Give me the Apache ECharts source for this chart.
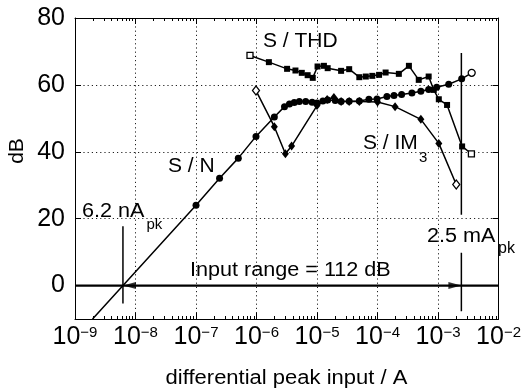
<!DOCTYPE html>
<html><head><meta charset="utf-8">
<script src="https://cdn.jsdelivr.net/npm/echarts@6/dist/echarts.min.js"></script>
<style>html,body{margin:0;padding:0;background:#fff}#c{width:524px;height:391px}</style>
</head><body><div id="c"></div>
<script>
// ---- data ----
const xTickValues = [1e-9, 1e-8, 1e-7, 1e-6, 1e-5, 1e-4, 1e-3, 1e-2];
const yTickValues = [0, 20, 40, 60, 80];

const snX = [1.95e-9, 1.0e-7, 2.45e-7, 5.0e-7, 9.8e-7, 1.97e-6, 2.9e-6, 3.5e-6, 4.2e-6, 5.1e-6, 6.5e-6, 8.3e-6, 1.0e-5, 1.25e-5, 1.5e-5, 2.0e-5, 2.5e-5, 3.4e-5, 5.0e-5, 7.2e-5, 9.8e-5, 1.43e-4, 1.87e-4, 2.5e-4, 3.7e-4, 5.2e-4, 7.0e-4, 9.5e-4, 1.5e-3, 2.46e-3, 3.6e-3];
const snY = [-10, 24.0, 32.1, 38.1, 44.6, 50.4, 53.5, 54.3, 54.7, 55.0, 55.0, 54.8, 54.6, 55.2, 55.5, 55.3, 55.0, 55.1, 55.2, 55.7, 55.8, 56.5, 56.8, 57.1, 57.6, 58.1, 58.6, 59.3, 60.2, 61.8, 63.6];

const thdX = [7.8e-7, 1.6e-6, 3.2e-6, 4.4e-6, 5.6e-6, 7.0e-6, 8.5e-6, 1.02e-5, 1.3e-5, 1.5e-5, 2.5e-5, 3.4e-5, 5.0e-5, 6.4e-5, 8.2e-5, 1.06e-4, 1.36e-4, 2.25e-4, 3.3e-4, 4.8e-4, 7.0e-4, 8.5e-4, 1.03e-3, 1.41e-3, 2.5e-3, 3.56e-3];
const thdY = [68.8, 66.8, 64.8, 64.3, 63.6, 62.9, 62.1, 65.5, 65.7, 65.0, 64.2, 64.7, 62.3, 62.5, 62.7, 63.0, 63.7, 63.3, 65.7, 61.5, 62.5, 58.5, 55.7, 54.0, 41.6, 39.4];

const im3X = [9.8e-7, 1.97e-6, 3.0e-6, 3.8e-6, 1.0e-5, 1.47e-5, 1.9e-5, 2.5e-5, 3.4e-5, 5.0e-5, 1.0e-4, 1.95e-4, 5.2e-4, 1.03e-3, 2.0e-3];
const im3Y = [58.3, 47.5, 39.4, 41.7, 53.8, 55.6, 56.2, 55.0, 55.0, 55.0, 54.9, 53.5, 49.7, 42.5, 30.2];

const lowLimitX = [6.2e-9, 6.2e-9];
const lowLimitY = [-5.4, 17.7];
const highLimitLowX = [2.43e-3, 2.43e-3];
const highLimitLowY = [-7.7, 9.8];
const highLimitHighX = [2.43e-3, 2.43e-3];
const highLimitHighY = [21.2, 69.5];
const rangeLineX = [1e-9, 1e-2];
const rangeLineY = [0, 0];
const arrowX = [6.2e-9, 2.43e-3];
const arrowY = [0, 0];

// ---- chart ----
const FONT = "'Liberation Sans', Arial, Helvetica, sans-serif";
const minorTicks = [];
for (let e = -9; e < -2; e++) for (let m = 2; m <= 9; m++) minorTicks.push(m * Math.pow(10, e));

function pairs(xs, ys) { return xs.map((x, i) => [x, ys[i]]); }
const hollow = { color: '#fff', borderColor: '#000', borderWidth: 1.3 };
function marked(xs, ys, firstHollow, lastHollow, firstNone) {
  return xs.map((x, i) => {
    const it = { value: [x, ys[i]] };
    if (i === 0 && firstNone) it.symbol = 'none';
    else if ((i === 0 && firstHollow) || (i === xs.length - 1 && lastHollow)) it.itemStyle = hollow;
    return it;
  });
}

const logAxisBase = { type: 'log', min: 1e-9, max: 1e-2, logBase: 10, gridIndex: 0 };
const tickVals = xTickValues;

const chart = echarts.init(document.getElementById('c'), null, { renderer: 'canvas' });
const lineBlack = { color: '#000', width: 1.5 };
const gridDots = { color: '#222', type: [1.2, 3], width: 1 };

chart.setOption({
  animation: false,
  backgroundColor: '#fff',
  grid: { left: 75, right: 24, top: 18, bottom: 72, containLabel: false },
  xAxis: [
    Object.assign({}, logAxisBase, {
      position: 'bottom',
      axisLine: { show: true, onZero: false, lineStyle: { color: '#000', width: 1 } },
      axisTick: { show: true, inside: true, length: 6, lineStyle: { color: '#000' }, customValues: tickVals },
      axisLabel: {
        show: true, margin: 6, customValues: tickVals,
        formatter: v => '{b|10}{s|' + String(Math.round(Math.log10(v))).replace('-', '\u2212') + '}',
        rich: {
          b: { fontSize: 25, fontFamily: FONT, color: '#000' },
          s: { fontSize: 15, fontFamily: FONT, color: '#000', verticalAlign: 'top' }
        }
      },
      splitLine: { show: true, lineStyle: gridDots },
      minorTick: { show: false }
    }),
    Object.assign({}, logAxisBase, {
      position: 'top',
      axisLine: { show: true, onZero: false, lineStyle: { color: '#000', width: 1 } },
      axisTick: { show: true, inside: true, length: 6, lineStyle: { color: '#000' }, customValues: tickVals },
      axisLabel: { show: false },
      splitLine: { show: false }
    }),
    Object.assign({}, logAxisBase, {
      position: 'bottom',
      axisLine: { show: false, onZero: false },
      axisTick: { show: true, inside: true, length: 3, lineStyle: { color: '#000' }, customValues: minorTicks },
      axisLabel: { show: false },
      splitLine: { show: false }
    }),
    Object.assign({}, logAxisBase, {
      position: 'top',
      axisLine: { show: false, onZero: false },
      axisTick: { show: true, inside: true, length: 3, lineStyle: { color: '#000' }, customValues: minorTicks },
      axisLabel: { show: false },
      splitLine: { show: false }
    })
  ],
  yAxis: [
    {
      type: 'value', min: -10, max: 80, splitNumber: 5, position: 'left',
      axisLine: { show: true, onZero: false, lineStyle: { color: '#000', width: 1 } },
      axisTick: { show: true, inside: true, length: 6, lineStyle: { color: '#000' }, customValues: yTickValues },
      axisLabel: { show: true, margin: 10, customValues: yTickValues, fontSize: 25, fontFamily: FONT, color: '#000' },
      splitLine: { show: true, lineStyle: gridDots }
    },
    {
      type: 'value', min: -10, max: 80, splitNumber: 5, position: 'right',
      axisLine: { show: true, onZero: false, lineStyle: { color: '#000', width: 1 } },
      axisTick: { show: true, inside: true, length: 6, lineStyle: { color: '#000' }, customValues: yTickValues },
      axisLabel: { show: false },
      splitLine: { show: false }
    }
  ],
  series: [
    { type: 'line', name: 'range', data: pairs(rangeLineX, rangeLineY), symbol: 'none', lineStyle: { color: '#000', width: 2.2 }, z: 3 },
    { type: 'scatter', name: 'arrows', data: [
        { value: [arrowX[0], arrowY[0]], symbolRotate: 90, symbolOffset: [6.5, 0] },
        { value: [arrowX[1], arrowY[1]], symbolRotate: -90, symbolOffset: [-6.5, 0] }
      ], symbol: 'triangle', symbolSize: [7, 13], itemStyle: { color: '#000' }, z: 6 },
    { type: 'line', name: 'low', data: pairs(lowLimitX, lowLimitY), symbol: 'none', lineStyle: lineBlack, z: 3 },
    { type: 'line', name: 'highA', data: pairs(highLimitLowX, highLimitLowY), symbol: 'none', lineStyle: lineBlack, z: 3 },
    { type: 'line', name: 'highB', data: pairs(highLimitHighX, highLimitHighY), symbol: 'none', lineStyle: lineBlack, z: 3 },
    { type: 'line', name: 'S/N', data: marked(snX, snY, false, true, true), symbol: 'circle', symbolSize: 7,
      itemStyle: { color: '#000' }, lineStyle: lineBlack, z: 5 },
    { type: 'line', name: 'S/THD', data: marked(thdX, thdY, true, true, false), symbol: 'rect', symbolSize: 6,
      itemStyle: { color: '#000' }, lineStyle: lineBlack, z: 5 },
    { type: 'line', name: 'S/IM3', data: marked(im3X, im3Y, true, true, false), symbol: 'diamond', symbolSize: [7, 9],
      itemStyle: { color: '#000' }, lineStyle: lineBlack, z: 5 }
  ],
  graphic: [
    { type: 'text', x: 263, y: 41, style: { text: 'S / THD', font: '21px ' + FONT, fill: '#000', align: 'left', verticalAlign: 'middle' } },
    { type: 'text', x: 168, y: 166, style: { text: 'S / N', font: '21px ' + FONT, fill: '#000', align: 'left', verticalAlign: 'middle' } },
    { type: 'text', x: 363, y: 143, style: { text: 'S / IM', font: '21px ' + FONT, fill: '#000', align: 'left', verticalAlign: 'middle' } },
    { type: 'text', x: 419, y: 157.5, style: { text: '3', font: '15px ' + FONT, fill: '#000', align: 'left', verticalAlign: 'middle' } },
    { type: 'text', x: 82, y: 211.5, scaleX: 1.08, style: { text: '6.2 nA', font: '20px ' + FONT, fill: '#000', align: 'left', verticalAlign: 'middle' } },
    { type: 'text', x: 146.5, y: 225, style: { text: 'pk', font: '15px ' + FONT, fill: '#000', align: 'left', verticalAlign: 'middle' } },
    { type: 'text', x: 427, y: 236.5, scaleX: 1.08, style: { text: '2.5 mA', font: '20px ' + FONT, fill: '#000', align: 'left', verticalAlign: 'middle' } },
    { type: 'text', x: 498, y: 248.5, style: { text: 'pk', font: '16px ' + FONT, fill: '#000', align: 'left', verticalAlign: 'middle' } },
    { type: 'text', x: 190, y: 270, scaleX: 1.08, style: { text: 'Input range = 112 dB', font: '20px ' + FONT, fill: '#000', align: 'left', verticalAlign: 'middle' } },
    { type: 'text', x: 286.5, y: 378, scaleX: 1.1, style: { text: 'differential peak input / A', font: '20px ' + FONT, fill: '#000', align: 'center', verticalAlign: 'middle' } },
    { type: 'text', x: 17, y: 151, rotation: Math.PI / 2, style: { text: 'dB', font: '21px ' + FONT, fill: '#000', align: 'center', verticalAlign: 'middle' } }
  ]
});
</script>
</body></html>
